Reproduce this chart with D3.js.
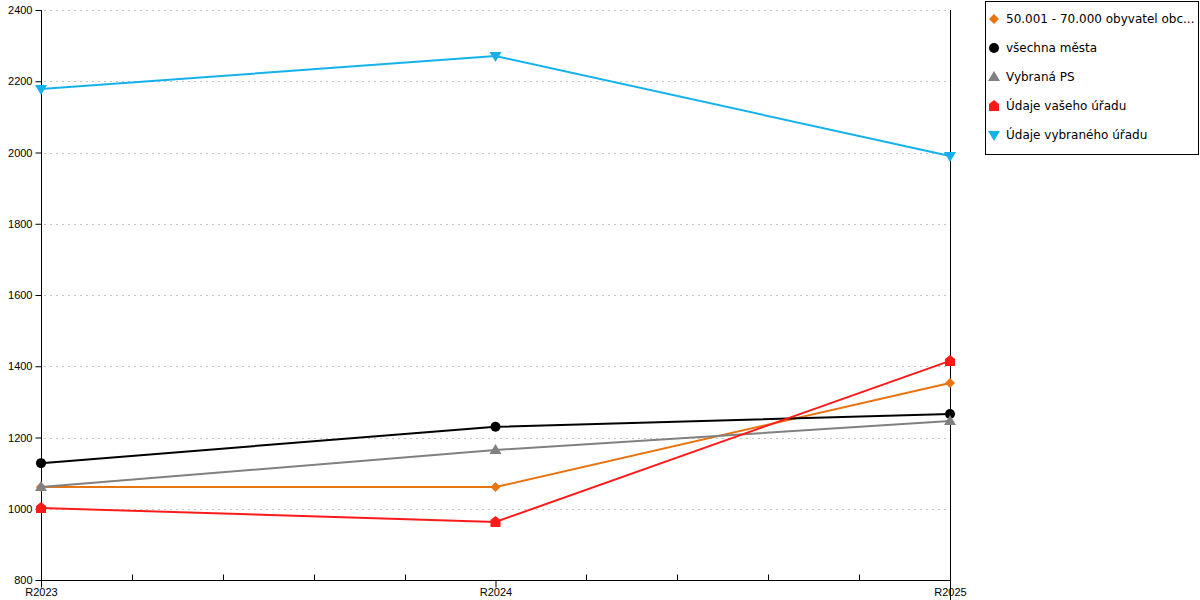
<!DOCTYPE html>
<html>
<head>
<meta charset="utf-8">
<script src="https://cdn.jsdelivr.net/npm/d3@7"></script>
<style>
body { margin: 0; background: #fff; }
svg { font-family: "DejaVu Sans", Verdana, sans-serif; }
</style>
</head>
<body>
<svg id="chart" width="1200" height="600"></svg>
<script>
// data
var categories = ['R2023', 'R2024', 'R2025'];
var yTicks = [800, 1000, 1200, 1400, 1600, 1800, 2000, 2200, 2400];

var seriesNames = ['50.001 - 70.000 obyvatel obc...', 'všechna města', 'Vybraná PS', 'Údaje vašeho úřadu', 'Údaje vybraného úřadu'];
var seriesColors = ['#e8730f', '#000000', '#808080', '#ff1a1a', '#14b1ec'];
var seriesMarkers = ['diamond', 'circle', 'triangle', 'house', 'triangleDown'];

var valsObce = [1061, 1061, 1353];
var valsMesta = [1128, 1230, 1266];
var valsPS = [1061, 1165, 1246];
var valsVas = [1002, 963, 1415];
var valsVybrany = [2178, 2271, 1990];

var seriesValues = [valsObce, valsMesta, valsPS, valsVas, valsVybrany];

var svg = d3.select('#chart');

var plot = { left: 41, right: 950, top: 10, bottom: 580 };

var x = d3.scalePoint()
    .domain(categories)
    .range([plot.left, plot.right]);

var y = d3.scaleLinear()
    .domain([800, 2400])
    .range([plot.bottom, plot.top]);

// grid
var grid = svg.append('g').attr('class', 'grid');
grid.selectAll('line')
    .data(yTicks.slice(1))
    .enter().append('line')
    .attr('x1', plot.left + 3)
    .attr('x2', plot.right - 3)
    .attr('y1', function(d) { return Math.round(y(d)) + 0.5; })
    .attr('y2', function(d) { return Math.round(y(d)) + 0.5; })
    .style('stroke', '#c4c4c4')
    .style('stroke-dasharray', '2,4');

// y axis
var yAxis = svg.append('g')
    .attr('transform', 'translate(' + (plot.left + 0.5) + ',0)')
    .call(d3.axisLeft(y).tickValues(yTicks).tickSize(6).tickSizeOuter(0).tickFormat(d3.format('d')));
yAxis.select('.domain').attr('d', 'M0,' + plot.top + 'V' + plot.bottom);
yAxis.selectAll('text').style('font-size', '11px').attr('fill', '#000');

// x axis with minor ticks
var minor = [];
for (var i = 0; i < categories.length - 1; i++) {
    var a = x(categories[i]), b = x(categories[i + 1]);
    for (var k = 1; k < 5; k++) minor.push(a + (b - a) * k / 5);
}
var xAxis = svg.append('g')
    .attr('transform', 'translate(0,' + (plot.bottom + 0.5) + ')')
    .call(d3.axisBottom(x).tickSize(6).tickSizeOuter(0));
xAxis.select('.domain').attr('d', 'M' + plot.left + ',0H' + plot.right);
xAxis.selectAll('.tick line').attr('y2', 7);
xAxis.selectAll('text').attr('y', 8).style('font-size', '11px').attr('fill', '#000');
xAxis.selectAll('.minor')
    .data(minor)
    .enter().append('line')
    .attr('class', 'minor')
    .attr('x1', function(d) { return Math.round(d) + 0.5; })
    .attr('x2', function(d) { return Math.round(d) + 0.5; })
    .attr('y1', 0)
    .attr('y2', -6)
    .style('stroke', '#000');

// right vertical line
svg.append('line')
    .attr('x1', plot.right + 0.5).attr('x2', plot.right + 0.5)
    .attr('y1', plot.top).attr('y2', plot.bottom + 20)
    .style('stroke', '#000');

function markerPath(type, s) {
    if (type === 'diamond') return 'M0,' + (-s) + 'L' + s + ',0L0,' + s + 'L' + (-s) + ',0Z';
    if (type === 'triangle') return 'M0,' + (-s - 1) + 'L' + (s + 1) + ',' + (s - 1) + 'L' + (-s - 1) + ',' + (s - 1) + 'Z';
    if (type === 'triangleDown') return 'M' + (-s - 1) + ',' + (-s + 1) + 'L' + (s + 1) + ',' + (-s + 1) + 'L0,' + (s + 1) + 'Z';
    if (type === 'house') return 'M0,' + (-s - 1) + 'L' + s + ',' + (-2) + 'L' + s + ',' + s + 'L' + (-s) + ',' + s + 'L' + (-s) + ',' + (-2) + 'Z';
    return null;
}

function drawMarker(g, type, color, cx, cy, s) {
    if (type === 'circle') {
        g.append('circle').attr('cx', cx).attr('cy', cy).attr('r', s).attr('fill', color);
    } else {
        g.append('path')
            .attr('d', markerPath(type, s))
            .attr('transform', 'translate(' + cx + ',' + cy + ')')
            .attr('fill', color);
    }
}

var line = d3.line()
    .x(function(d, i) { return x(categories[i]); })
    .y(function(d) { return y(d); });

var seriesG = svg.append('g').attr('class', 'series');
seriesValues.forEach(function(vals, si) {
    var g = seriesG.append('g');
    g.append('path')
        .datum(vals)
        .attr('d', line)
        .attr('fill', 'none')
        .attr('stroke', seriesColors[si])
        .attr('stroke-width', 2);
    vals.forEach(function(v, i) {
        drawMarker(g, seriesMarkers[si], seriesColors[si], x(categories[i]), y(v), 5);
    });
});

// legend
var legend = svg.append('g').attr('class', 'legend');
legend.append('rect')
    .attr('x', 985.5).attr('y', 1.5)
    .attr('width', 213).attr('height', 153)
    .attr('fill', '#fff').attr('stroke', '#000');

seriesNames.forEach(function(name, i) {
    var ly = 19 + i * 29;
    drawMarker(legend, seriesMarkers[i], seriesColors[i], 994, ly, 5);
    legend.append('text')
        .attr('x', 1006).attr('y', ly + 4)
        .style('font-size', '12px')
        .text(name);
});
</script>
</body>
</html>
